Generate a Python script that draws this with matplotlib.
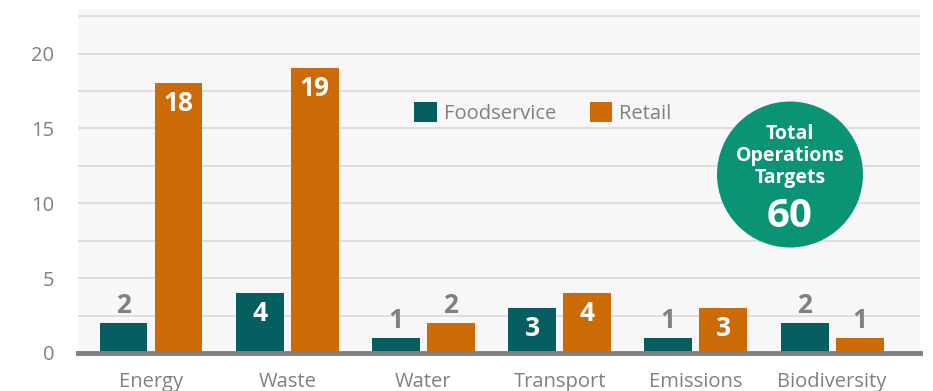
import matplotlib.pyplot as plt
import numpy as np
from matplotlib.patches import Circle

plt.rcParams['font.family'] = ['Open Sans', 'DejaVu Sans']

categories = ['Energy', 'Waste', 'Water', 'Transport', 'Emissions', 'Biodiversity']
foodservice = [2, 4, 1, 3, 1, 2]
retail = [18, 19, 2, 4, 3, 1]
total_targets = 60

teal = '#065e60'
orange = '#cc6a06'
green = '#0a9475'
grey = '#808080'

fig = plt.figure(figsize=(9.33, 3.91), dpi=100)
ax = fig.add_axes([0.0836, 0.0972, 0.9025, 0.877])
ax.set_facecolor('#f7f7f7')

x = np.arange(len(categories))
w = 0.352
off = 0.202
b1 = ax.bar(x - off, foodservice, w, color=teal, label='Foodservice', zorder=3)
b2 = ax.bar(x + off, retail, w, color=orange, label='Retail', zorder=3)

# value labels: inside the bar when tall enough, otherwise above it
for bars, vals in ((b1, foodservice), (b2, retail)):
    for bar, v in zip(bars, vals):
        cx = bar.get_x() + bar.get_width() / 2
        if v >= 3:
            ax.text(cx, v - 0.45, str(v), ha='center', va='top', color='white',
                    fontsize=19, fontweight='bold', zorder=4)
        else:
            ax.text(cx, v + 0.3, str(v), ha='center', va='bottom', color=grey,
                    fontsize=19, fontweight='bold', zorder=4)

ax.set_xlim(-0.536, 5.646)
ax.set_ylim(0, 22.9)
ax.set_yticks([0, 5, 10, 15, 20])
ax.set_yticks(np.arange(2.5, 22.6, 2.5), minor=True)
ax.grid(axis='y', which='both', color='#d9d9d9', linewidth=1.2, zorder=0)
ax.set_axisbelow(True)
ax.tick_params(axis='y', which='both', length=0, labelsize=14.5, labelcolor=grey, pad=17)
ax.set_xticks(x)
ax.set_xticklabels(categories)
ax.tick_params(axis='x', length=0, labelsize=14.5, labelcolor=grey, pad=14)
for s in ('top', 'right', 'left'):
    ax.spines[s].set_visible(False)
ax.spines['bottom'].set_color('#7f7f7f')
ax.spines['bottom'].set_linewidth(3.5)
ax.spines['bottom'].set_zorder(5)

leg = ax.legend(loc='center', bbox_to_anchor=(543 / 933, 1 - 113 / 391),
                bbox_transform=fig.transFigure, ncol=2, frameon=False,
                fontsize=14.5, handlelength=1.1, handleheight=1.1,
                handletextpad=0.35, columnspacing=1.7)
for t in leg.get_texts():
    t.set_color(grey)

# total badge
cx, cy, r = 7.90, 3.91 - 1.745, 0.73
fig.patches.append(Circle((cx, cy), r, transform=fig.dpi_scale_trans,
                          facecolor=green, edgecolor='none', zorder=6))
fig.text(7.90 / 9.33, (3.91 - 1.56) / 3.91, 'Total\nOperations\nTargets',
         ha='center', va='center', color='white', fontsize=14,
         fontweight='bold', linespacing=1.15, zorder=7)
fig.text(7.90 / 9.33, (3.91 - 2.17) / 3.91, str(total_targets),
         ha='center', va='center', color='white', fontsize=29,
         fontweight='bold', zorder=7)

fig.savefig('out.png', dpi=100)
